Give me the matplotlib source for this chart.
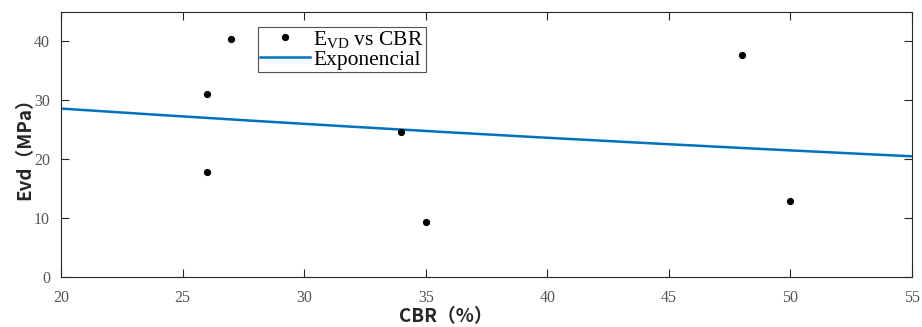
import numpy as np
import matplotlib
matplotlib.use("Agg")
import matplotlib.pyplot as plt

plt.rcParams['mathtext.fontset'] = 'custom'
plt.rcParams['mathtext.rm'] = 'Liberation Serif'
plt.rcParams['mathtext.it'] = 'Liberation Serif:italic'
plt.rcParams['mathtext.bf'] = 'Liberation Serif:bold'

# Data
cbr = [26, 26, 27, 34, 35, 48, 50]
evd = [17.8, 31.1, 40.5, 24.6, 9.3, 37.7, 12.9]
# Exponential fit y = a*exp(b*x) (coefficients)
fit_a = 34.6
fit_b = -0.00952
x_ticks = [20, 25, 30, 35, 40, 45, 50, 55]
y_ticks = [0, 10, 20, 30, 40]

fig = plt.figure(figsize=(9.22, 3.27), dpi=100)
ax = fig.add_axes([0.0662, 0.1529, 0.9230, 0.8104])

xf = np.linspace(20, 55, 200)
yf = fit_a * np.exp(fit_b * xf)

ax.plot(cbr, evd, 'o', color='black', markersize=4.2, label=r'E$_{\mathrm{VD}}$ vs CBR', zorder=3)
ax.plot(xf, yf, '-', color='#0072BD', linewidth=1.8, label='Exponencial', zorder=2)

ax.set_xlim(20, 55)
ax.set_ylim(0, 45)
ax.set_xticks(x_ticks)
ax.set_yticks(y_ticks)

serif = ['Liberation Serif', 'DejaVu Serif']
ax.tick_params(direction='in', top=True, right=True, length=6, width=0.8,
               colors='#262626', labelcolor='#555555', labelsize=11.5)
ax.tick_params(axis='x', pad=9)
ax.tick_params(axis='y', pad=8)
for lab in ax.get_xticklabels() + ax.get_yticklabels():
    lab.set_family(serif)
for s in ax.spines.values():
    s.set_color('#262626')
    s.set_linewidth(0.8)

sans = ['Noto Sans CJK TC', 'DejaVu Sans']
ax.set_xlabel('CBR（%）', fontsize=13.5, fontweight='bold', family=sans, color='#262626', labelpad=1)
ax.xaxis.set_label_coords(0.452, -0.115)
ax.set_ylabel('Evd（MPa）', fontsize=13.5, fontweight='bold', family=sans, color='#262626', labelpad=0)

leg = ax.legend(loc='upper left', bbox_to_anchor=(0.2315, 0.945), frameon=True, fancybox=False,
                edgecolor='#262626', prop={'family': serif, 'size': 15.5},
                borderpad=0.1, labelspacing=0.0, handlelength=2.3, handletextpad=0.15,
                borderaxespad=0)
leg.get_frame().set_linewidth(0.8)

fig.savefig('out.png', dpi=100)
